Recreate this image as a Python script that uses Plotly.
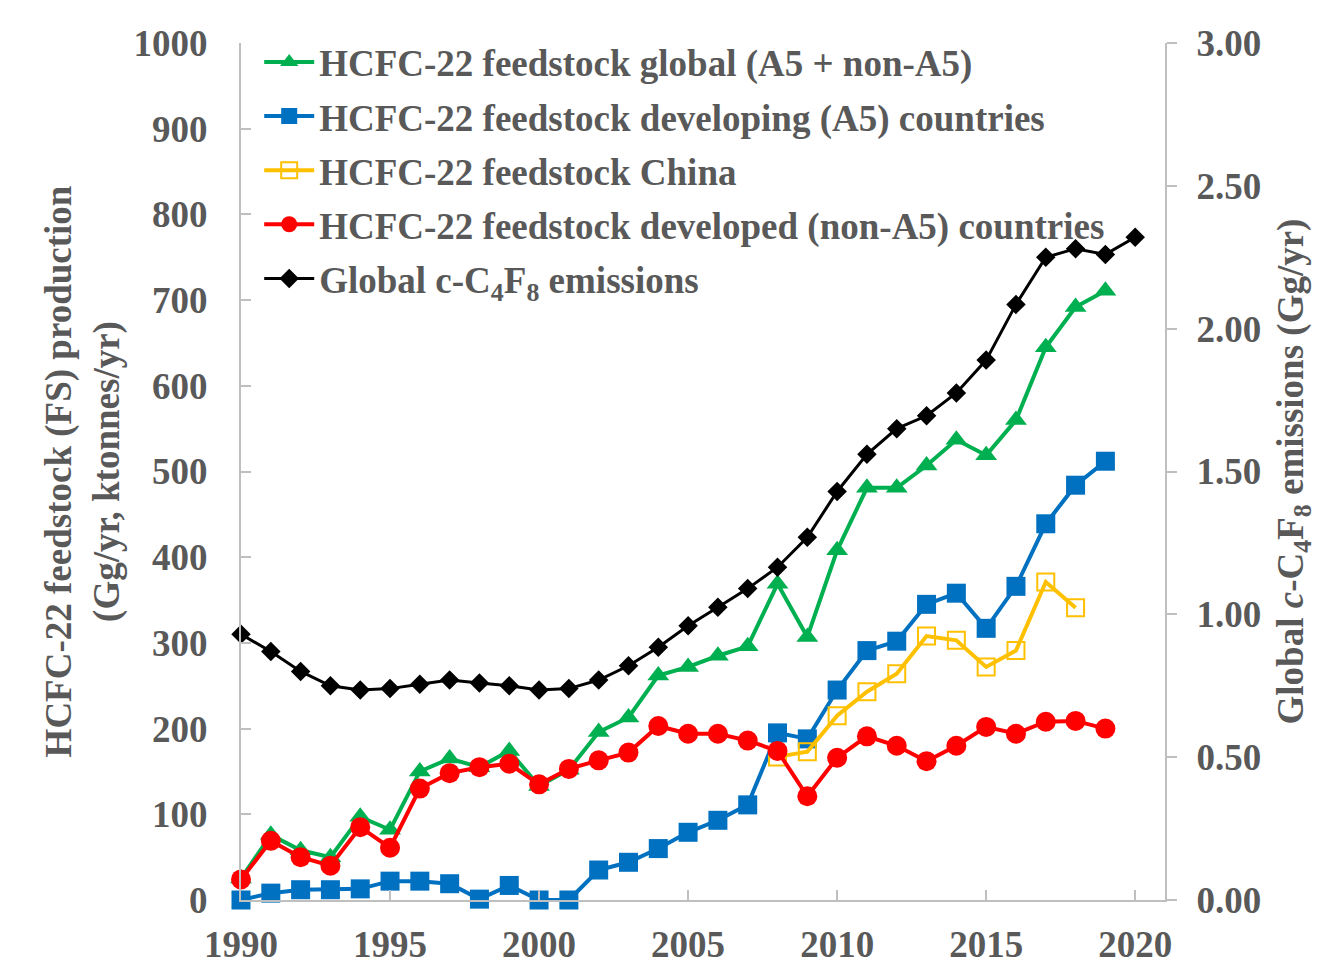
import plotly.graph_objects as go

years = list(range(1990, 2020))
years_c4f8 = list(range(1990, 2021))
years_china = list(range(2008, 2019))

global_fs = [25, 76, 58, 50, 97, 82, 150, 165, 155, 174, 133, 152, 196, 213, 262, 272,
             285, 296, 369, 307, 408, 481, 481, 507, 537, 519, 560, 645, 692, 711]
a5_fs = [0, 8, 12, 12, 13, 22, 22, 19, 1, 17, 0, 0, 35, 44, 60, 79,
         93, 111, 195, 188, 245, 291, 302, 345, 358, 317, 366, 439, 484, 512]
china_fs = [167, 173, 215, 243, 264, 308, 303, 272, 291, 371, 341]
nona5_fs = [24, 69, 50, 40, 85, 61, 130, 148, 155, 159, 135, 153, 163, 172, 203, 194,
            194, 186, 174, 121, 166, 191, 180, 162, 180, 202, 194, 208, 209, 200]
c4f8 = [0.93, 0.87, 0.80, 0.75, 0.735, 0.74, 0.755, 0.77, 0.76, 0.75, 0.735, 0.74,
        0.77, 0.82, 0.885, 0.96, 1.025, 1.09, 1.165, 1.27, 1.43, 1.56, 1.65, 1.695,
        1.775, 1.89, 2.085, 2.25, 2.28, 2.26, 2.32]

FONT = "Liberation Serif, Times New Roman, serif"
GREY = "#595959"
AXC = "#BFBFBF"
FS = 37

fig = go.Figure()
fig.add_trace(go.Scatter(x=years, y=global_fs, name="HCFC-22 feedstock global (A5 + non-A5)",
                         mode="lines+markers", legendgroup="g1",
                         line=dict(color="#00B050", width=4),
                         marker=dict(symbol="triangle-up", size=19, color="#00B050"),
                         cliponaxis=False))
fig.add_trace(go.Scatter(x=years, y=a5_fs, name="HCFC-22 feedstock developing (A5) countries",
                         mode="lines+markers", legendgroup="g2",
                         line=dict(color="#0070C0", width=4),
                         marker=dict(symbol="square", size=19, color="#0070C0"),
                         cliponaxis=False))
fig.add_trace(go.Scatter(x=years_china, y=china_fs, name="HCFC-22 feedstock China",
                         mode="lines+markers", legendgroup="g3",
                         line=dict(color="#FFC000", width=4),
                         marker=dict(symbol="square-open", size=17, color="#FFC000",
                                     line=dict(width=2, color="#FFC000")),
                         cliponaxis=False))
fig.add_trace(go.Scatter(x=years, y=nona5_fs, name="HCFC-22 feedstock developed (non-A5) countries",
                         mode="lines+markers", legendgroup="g4",
                         line=dict(color="#FF0000", width=4),
                         marker=dict(symbol="circle", size=20, color="#FF0000"),
                         cliponaxis=False))
fig.add_trace(go.Scatter(x=years_c4f8, y=c4f8, name="Global c-C<sub>4</sub>F<sub>8</sub> emissions",
                         mode="lines+markers", legendgroup="g5", yaxis="y2",
                         line=dict(color="#000000", width=3),
                         marker=dict(symbol="diamond", size=15, color="#000000"),
                         cliponaxis=False))

tf = dict(family=FONT, size=FS, color=GREY, weight="bold")

fig.update_layout(
    width=1334, height=978,
    margin=dict(l=233, r=177, t=35, b=86, autoexpand=False),
    paper_bgcolor="white", plot_bgcolor="white",
    font=dict(family=FONT, color=GREY, size=FS, weight="bold"),
    showlegend=True,
    legend=dict(x=0.0197, y=1.0135, xanchor="left", yanchor="top",
                bgcolor="rgba(0,0,0,0)", traceorder="grouped", tracegroupgap=3,
                font=tf, itemwidth=50),
    xaxis=dict(range=[1990, 2021], tickvals=[1990, 1995, 2000, 2005, 2010, 2015, 2020],
               showline=True, linecolor=AXC, linewidth=2, ticks="inside", ticklen=10,
               tickcolor=AXC, tickwidth=2, showgrid=False, zeroline=False,
               tickfont=tf, ticklabelstandoff=11, automargin=False),
    yaxis=dict(range=[0, 1000], dtick=100, showline=True, linecolor=AXC, linewidth=2,
               ticks="inside", ticklen=10, tickcolor=AXC, tickwidth=2,
               showgrid=False, zeroline=False, automargin=False,
               tickfont=tf, ticklabelstandoff=24,
               title=dict(text="HCFC-22 feedstock (FS) production<br>(Gg/yr, ktonnes/yr)",
                          font=tf, standoff=3)),
    yaxis2=dict(range=[0, 3], dtick=0.5, tickformat=".2f", overlaying="y", side="right",
                showline=True, linecolor=AXC, linewidth=2, ticks="outside", ticklen=10,
                tickcolor=AXC, tickwidth=2, showgrid=False, zeroline=False, automargin=False,
                tickfont=tf, ticklabelstandoff=12,
                title=dict(text="Global <i>c</i>-C<sub>4</sub>F<sub>8</sub> emissions (Gg/yr)",
                           font=tf, standoff=17)),
)

fig.write_html("out.html")
